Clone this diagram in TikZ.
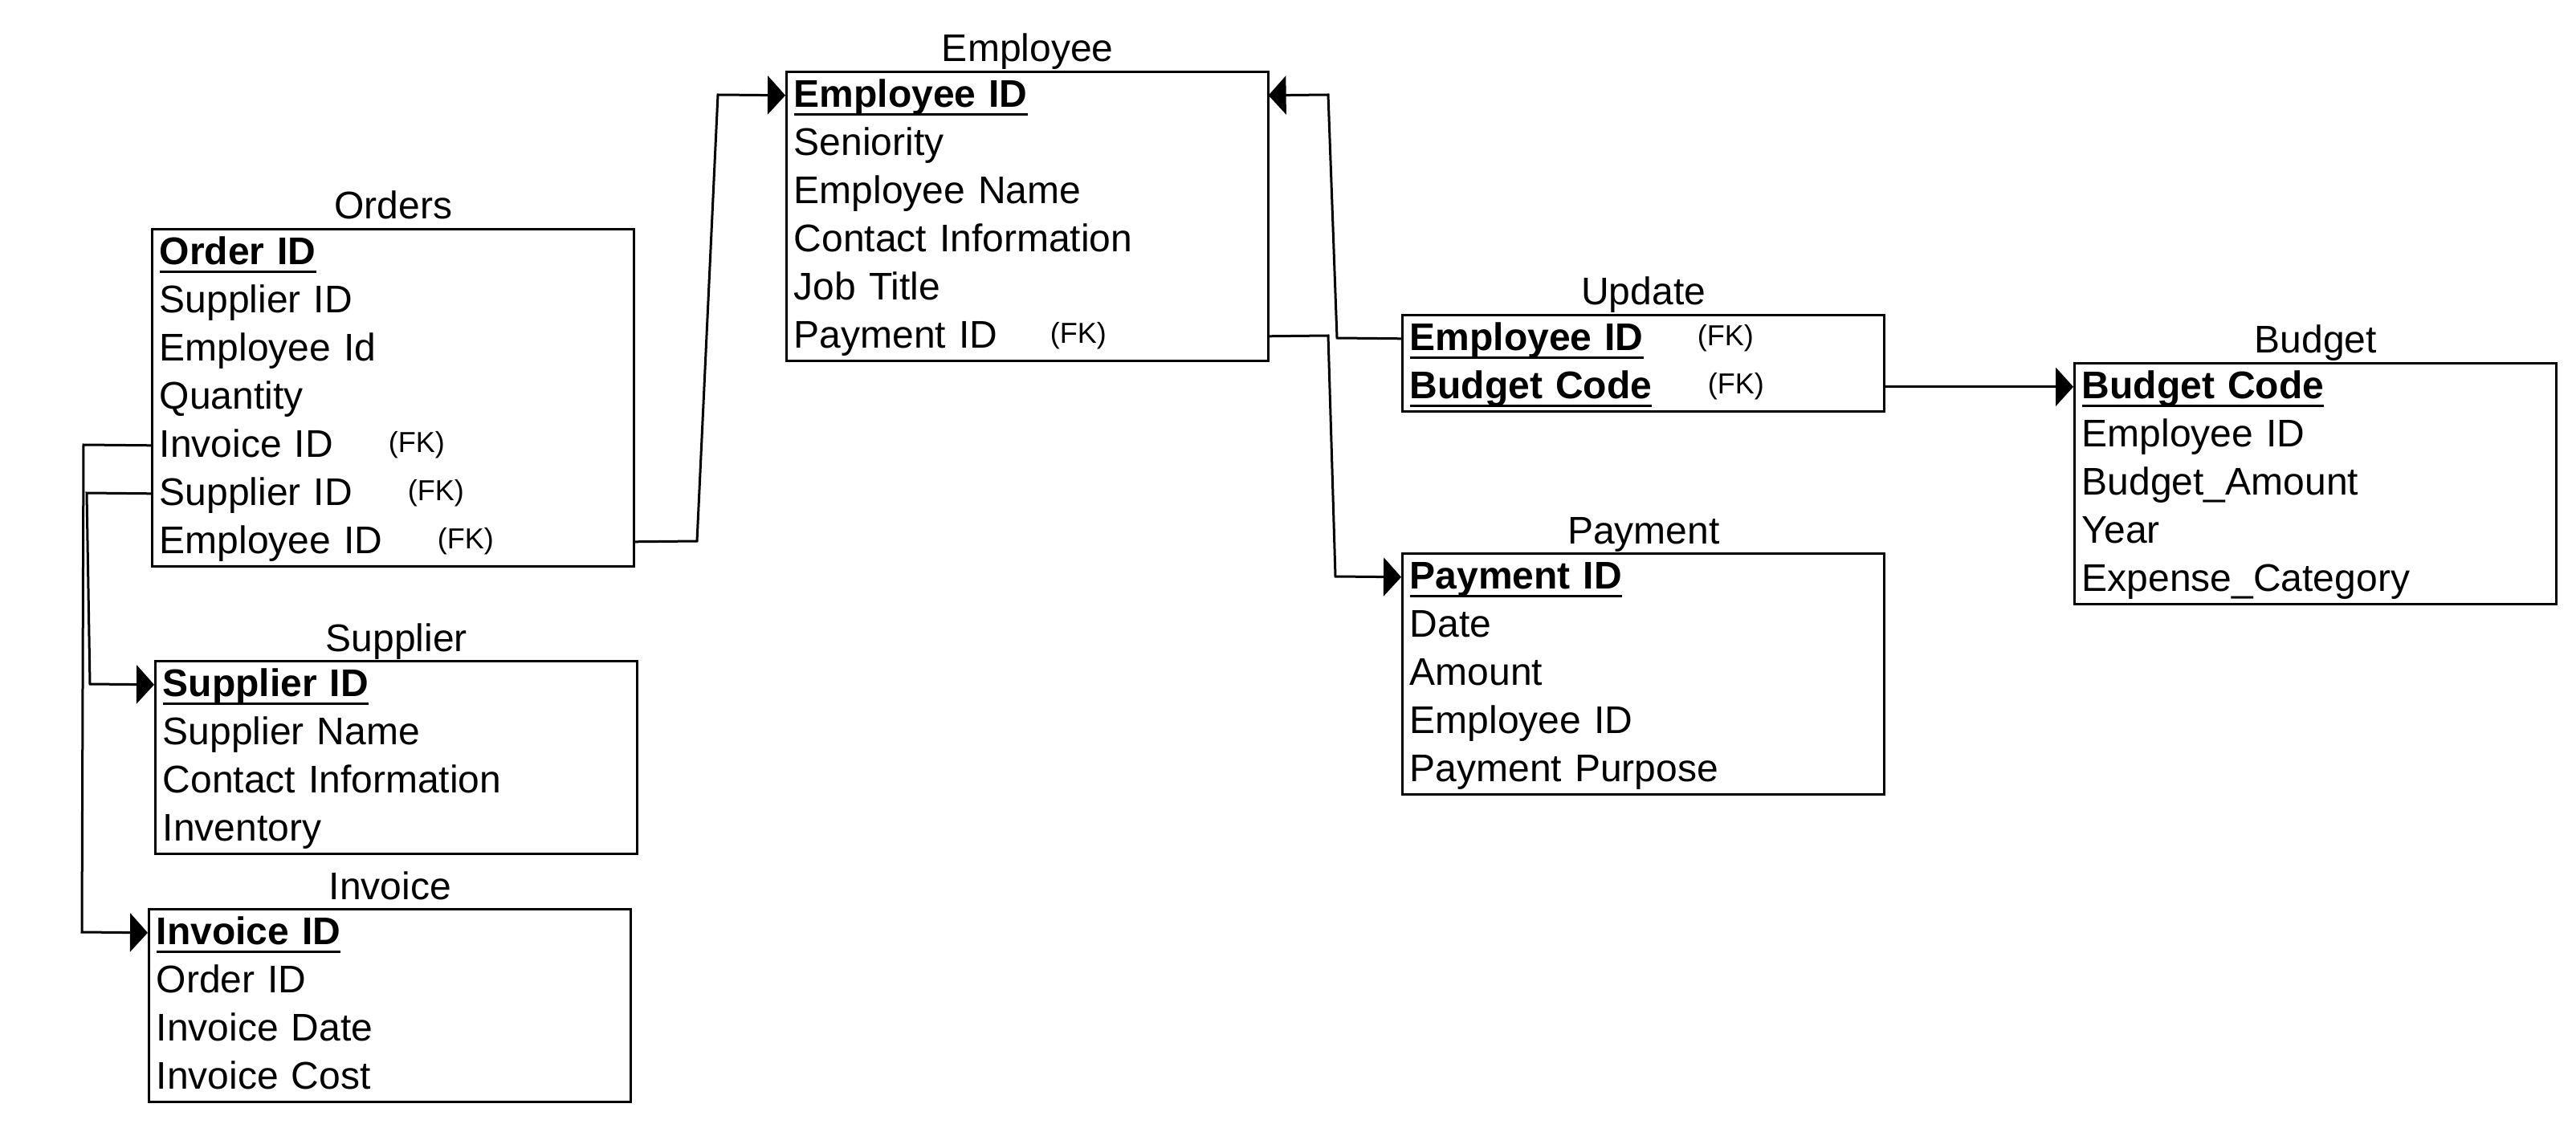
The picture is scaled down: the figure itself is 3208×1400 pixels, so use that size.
\documentclass[tikz,border=0pt]{standalone}
\usepackage{fontspec}
\setmainfont{Liberation Sans}
\usetikzlibrary{arrows.meta}
\newcommand\pkey[1]{\setbox0=\hbox{\bfseries #1}\rlap{\rule[-2.6pt]{\wd0}{0.8pt}}\box0}
\tikzset{
  tbl/.style={draw, line width=0.85pt, minimum width=150pt, inner sep=0pt, anchor=north west},
  row/.style={anchor=north west, inner xsep=2.5pt, inner ysep=0pt, minimum height=15pt,
    text width=145pt, align=left, text height=10pt, text depth=2.5pt,
    font=\fontsize{12}{14}\selectfont},
  ttl/.style={anchor=base, inner sep=0pt, font=\fontsize{12}{14}\selectfont},
  fk/.style={anchor=west, inner sep=0pt, text height=6.5pt, text depth=1.9pt,
    font=\fontsize{9}{10}\selectfont},
  conn/.style={line width=0.75pt},
  arr/.style={conn, -{Triangle[length=5.5pt, width=12pt]}}
}
\begin{document}
\begin{tikzpicture}[x=0.25pt, y=-0.25pt]
\useasboundingbox (0,0) rectangle (3208,1400);

% Orders
\node[tbl, minimum height=105pt] (orders) at (188,284) {};
\node[ttl] (ordersT) at ([yshift=2.75pt]orders.north) {Orders};
\node[row] (o1) at (188,284) {\pkey{Order ID}};
\node[row] (o2) at (188,344) {Supplier ID};
\node[row] (o3) at (188,404) {Employee Id};
\node[row] (o4) at (188,464) {Quantity};
\node[row] (o5) at (188,524) {Invoice ID};
\node[row] (o6) at (188,584) {Supplier ID};
\node[row] (o7) at (188,644) {Employee ID};
\node[fk] (o5fk) at (483,554) {(FK)};
\node[fk] (o6fk) at (507,614) {(FK)};
\node[fk] (o7fk) at (544,674) {(FK)};

% Supplier
\node[tbl, minimum height=60pt] (supplier) at (192,822) {};
\node[ttl] (supplierT) at ([yshift=2.75pt]supplier.north) {Supplier};
\node[row] (s1) at (192,822) {\pkey{Supplier ID}};
\node[row] (s2) at (192,882) {Supplier Name};
\node[row] (s3) at (192,942) {Contact Information};
\node[row] (s4) at (192,1002) {Inventory};

% Invoice
\node[tbl, minimum height=60pt] (invoice) at (184,1131) {};
\node[ttl] (invoiceT) at ([yshift=2.75pt]invoice.north) {Invoice};
\node[row] (i1) at (184,1131) {\pkey{Invoice ID}};
\node[row] (i2) at (184,1191) {Order ID};
\node[row] (i3) at (184,1251) {Invoice Date};
\node[row] (i4) at (184,1311) {Invoice Cost};

% Employee
\node[tbl, minimum height=90pt] (employee) at (978,88) {};
\node[ttl] (employeeT) at ([yshift=2.75pt]employee.north) {Employee};
\node[row] (e1) at (978,88) {\pkey{Employee ID}};
\node[row] (e2) at (978,148) {Seniority};
\node[row] (e3) at (978,208) {Employee Name};
\node[row] (e4) at (978,268) {Contact Information};
\node[row] (e5) at (978,328) {Job Title};
\node[row] (e6) at (978,388) {Payment ID};
\node[fk] (e6fk) at (1307,418) {(FK)};

% Update
\node[tbl, minimum height=30pt] (update) at (1745,391) {};
\node[ttl] (updateT) at ([yshift=2.75pt]update.north) {Update};
\node[row] (u1) at (1745,391) {\pkey{Employee ID}};
\node[row] (u2) at (1745,451) {\pkey{Budget Code}};
\node[fk] (u1fk) at (2113,421) {(FK)};
\node[fk] (u2fk) at (2126,481) {(FK)};

% Payment
\node[tbl, minimum height=75pt] (payment) at (1745,688) {};
\node[ttl] (paymentT) at ([yshift=2.75pt]payment.north) {Payment};
\node[row] (p1) at (1745,688) {\pkey{Payment ID}};
\node[row] (p2) at (1745,748) {Date};
\node[row] (p3) at (1745,808) {Amount};
\node[row] (p4) at (1745,868) {Employee ID};
\node[row] (p5) at (1745,928) {Payment Purpose};

% Budget
\node[tbl, minimum height=75pt] (budget) at (2582,451) {};
\node[ttl] (budgetT) at ([yshift=2.75pt]budget.north) {Budget};
\node[row] (b1) at (2582,451) {\pkey{Budget Code}};
\node[row] (b2) at (2582,511) {Employee ID};
\node[row] (b3) at (2582,571) {Budget\_Amount};
\node[row] (b4) at (2582,631) {Year};
\node[row] (b5) at (2582,691) {Expense\_Category};

% Connectors
\draw[arr] (o7.east) -- (868,674) -- (894,118) -- (e1.west);
\draw[arr] (e6.east) -- (1654,418) -- (1663,718) -- (p1.west);
\draw[arr] (u1.west) -- (1665,421) -- (1654,118) -- (e1.east);
\draw[arr] (u2.east) -- (b1.west);
\draw[arr] (o5.west) -- (104,554) -- (102,1161) -- (i1.west);
\draw[arr] (o6.west) -- (108,614) -- (112,852) -- (s1.west);
\end{tikzpicture}
\end{document}
